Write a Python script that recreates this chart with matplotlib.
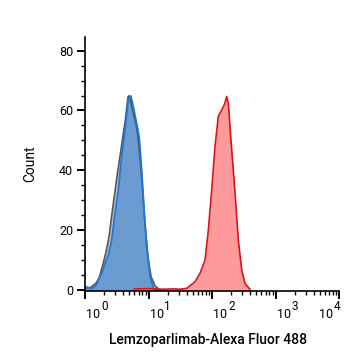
import numpy as np
import matplotlib.pyplot as plt
from matplotlib.ticker import LogLocator, MultipleLocator, NullFormatter

plt.rcParams['font.family'] = ['Roboto', 'DejaVu Sans']

'''
histogram outlines read from the picture (x in log10 units, y = count)
'''

gray_log = [0.0, 0.09, 0.168, 0.22, 0.272, 0.326, 0.378, 0.44, 0.504, 0.567, 0.60,
            0.63, 0.677, 0.69, 0.709, 0.756, 0.803, 0.83, 0.85, 0.898, 0.945, 0.992,
            1.04, 1.1, 1.18]
gray_count = [0.7, 0.9, 2.2, 3.9, 7.8, 12.3, 17.8, 28, 38, 47, 52,
              56, 64.5, 64.9, 64, 59.5, 55.5, 52, 48, 36, 22, 11,
              4.5, 1.5, 0]

blue_log = [0.0, 0.05, 0.105, 0.17, 0.236, 0.28, 0.315, 0.367, 0.42, 0.472, 0.525,
            0.577, 0.63, 0.682, 0.719, 0.75, 0.787, 0.824, 0.855, 0.892, 0.934,
            0.971, 1.024, 1.076, 1.15]
blue_count = [1.2, 0.8, 0.5, 1.5, 4.5, 6.5, 9.0, 11.7, 16.7, 25.6, 33.4,
              44.6, 53.5, 63.5, 64.9, 62.4, 58.5, 54.6, 50.7, 40.1, 25.6,
              14.5, 4.5, 0.6, 0]

red_log = [0.78, 1.0, 1.2, 1.4, 1.496, 1.602, 1.732, 1.811, 1.89, 1.942, 1.995,
           2.047, 2.099, 2.153, 2.194, 2.231, 2.257, 2.294, 2.335, 2.378, 2.414,
           2.468, 2.52, 2.598]
red_count = [0.4, 0.5, 0.3, 0.4, 0.3, 0.6, 2.8, 5.6, 10, 20, 33.4,
             47.9, 58, 60.2, 61.9, 64.7, 62.4, 51.3, 40.1, 27.9, 16.7,
             6.7, 2.2, 0.3]

decades = [0, 1, 2, 3, 4]

'''
plot
'''

fig = plt.figure(figsize=(3.61, 3.64), dpi=100)
ax = fig.add_axes([0.2355, 0.2005, 0.7036, 0.6975])

gx = np.power(10.0, gray_log)
bx = np.power(10.0, blue_log)
rx = np.power(10.0, red_log)

ax.fill_between(gx, gray_count, color='#bdbdbd', lw=0)
ax.fill_between(bx, blue_count, color='#6b9bd1', lw=0)
ax.fill_between(rx, red_count, color='#ff9a9c', lw=0)
ax.plot(gx, gray_count, color='#555555', lw=1.2)
ax.plot(bx, blue_count, color='#1f78d6', lw=1.3)
ax.plot(rx, red_count, color='#d9151b', lw=1.2)

ax.set_xscale('log')
ax.set_xlim(1, 1e4)
ax.set_ylim(-0.3, 84.5)

ax.xaxis.set_major_locator(LogLocator(base=10, numticks=10))
ax.xaxis.set_minor_locator(LogLocator(base=10, subs=np.arange(2, 10), numticks=10))
ax.xaxis.set_major_formatter(NullFormatter())
ax.xaxis.set_minor_formatter(NullFormatter())
ax.yaxis.set_major_locator(MultipleLocator(20))
ax.yaxis.set_minor_locator(MultipleLocator(5))

ax.spines['top'].set_visible(False)
ax.spines['right'].set_visible(False)
ax.spines['left'].set_linewidth(1.2)
ax.spines['bottom'].set_linewidth(1.2)

ax.tick_params(which='major', direction='out', length=5.5, width=1.4, labelsize=9, pad=3, color='black')
ax.tick_params(which='minor', direction='out', length=3, width=1.0, color='black')

# "10" with a big raised exponent, like the cytometry software draws it
for d in decades:
    shift = -15.5 if d == decades[-1] else 0
    ax.annotate('10', xy=(10.0 ** d, 0), xycoords=('data', 'axes fraction'),
                xytext=(1 + shift, -19.5), textcoords='offset points',
                ha='left', va='baseline', fontsize=9)
    ax.annotate(str(d), xy=(10.0 ** d, 0), xycoords=('data', 'axes fraction'),
                xytext=(11.5 + shift, -13.8), textcoords='offset points',
                ha='left', va='baseline', fontsize=8.5)

ax.set_ylabel('Count', fontsize=10)
ax.yaxis.set_label_coords(-0.19, 0.5)
ax.set_xlabel('Lemzoparlimab-Alexa Fluor 488', fontsize=10, fontweight='medium')
ax.xaxis.set_label_coords(0.483, -0.165)

plt.savefig('out.png', dpi=100)
